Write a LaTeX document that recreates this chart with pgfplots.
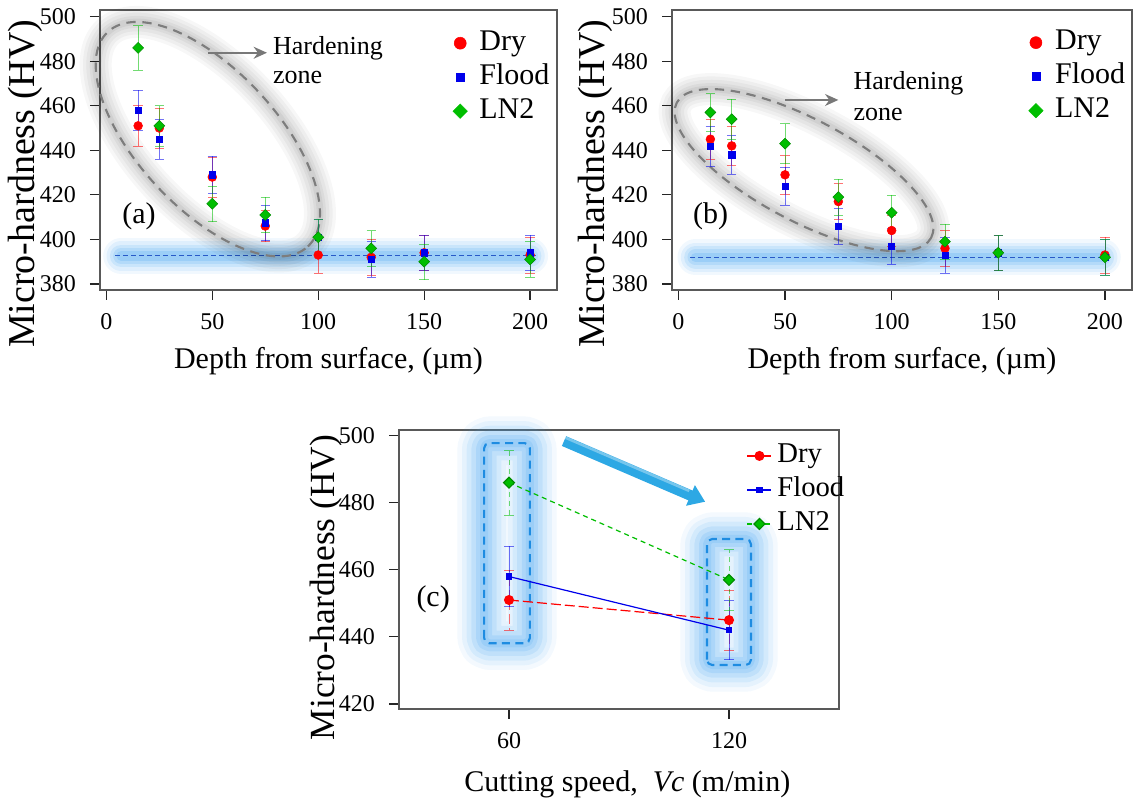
\documentclass[border=0pt]{standalone}
\usepackage{fontspec}
\setmainfont{Liberation Serif}
\usepackage{pgfplots}
\pgfplotsset{compat=1.18}
\usetikzlibrary{arrows.meta}
\definecolor{dryc}{RGB}{255,0,0}
\definecolor{floodc}{RGB}{0,0,235}
\definecolor{lnc}{RGB}{0,190,0}
\definecolor{lnd}{RGB}{0,140,0}
\definecolor{glowc}{RGB}{60,160,240}
\definecolor{boxc}{RGB}{30,140,225}
\definecolor{arrc}{RGB}{45,168,228}
\pgfplotsset{
  panel/.style={
    scale only axis, clip=false,
    axis line style={draw=black!65, line width=0.9pt},
    tick align=outside, major tick length=7.5pt,
    tick style={draw=black!85, line width=0.9pt},
    xtick pos=lower, ytick pos=left,
    /pgf/number format/assume math mode=true,
    tick label style={font=\fontsize{18}{20}\selectfont},
    xticklabel style={yshift=-7pt},
    yticklabel style={xshift=-7pt},
    xlabel style={font=\fontsize{22.5}{25}\selectfont, anchor=base},
    legend style={draw=none, fill=none, inner sep=0pt, legend cell align=left,
      font=\fontsize{22.5}{25}\selectfont, row sep=0pt, column sep=8pt,
      nodes={inner sep=1pt, text height=17pt, text depth=6.5pt}},
  },
  errstyle/.style={error bars/.cd, y dir=both, y explicit,
    error bar style={#1, line width=0.45pt, opacity=0.55},
    error mark options={#1, rotate=90, line width=0.45pt, opacity=0.55, mark size=3.5pt}},
  dotleg/.style={legend image code/.code={\draw[##1] plot coordinates {(0pt,0pt)};}},
}
\newcommand\glowbox[4]{%
  \draw[glowc, opacity=0.06, line width=40pt, rounded corners=4pt, line join=round] (axis cs:#1,#3) rectangle (axis cs:#2,#4);
  \draw[glowc, opacity=0.08, line width=33pt, rounded corners=4pt, line join=round] (axis cs:#1,#3) rectangle (axis cs:#2,#4);
  \draw[glowc, opacity=0.1, line width=26pt, rounded corners=4pt, line join=round] (axis cs:#1,#3) rectangle (axis cs:#2,#4);
  \draw[glowc, opacity=0.13, line width=19pt, rounded corners=4pt, line join=round] (axis cs:#1,#3) rectangle (axis cs:#2,#4);
  \draw[glowc, opacity=0.15, line width=12pt, rounded corners=4pt, line join=round] (axis cs:#1,#3) rectangle (axis cs:#2,#4);
  \draw[glowc, opacity=0.15, line width=6pt, rounded corners=4pt, line join=round] (axis cs:#1,#3) rectangle (axis cs:#2,#4);
  \draw[boxc, line width=1.6pt, dash pattern=on 6pt off 4pt, rounded corners=4pt] (axis cs:#1,#3) rectangle (axis cs:#2,#4);
}
\newcommand\glowell[5]{%
  \draw[black, opacity=0.03, line width=24pt, rotate around={#5:(axis cs:#1,#2)}] (axis cs:#1,#2) ellipse [x radius=#3, y radius=#4];
  \draw[black, opacity=0.035, line width=19pt, rotate around={#5:(axis cs:#1,#2)}] (axis cs:#1,#2) ellipse [x radius=#3, y radius=#4];
  \draw[black, opacity=0.04, line width=14pt, rotate around={#5:(axis cs:#1,#2)}] (axis cs:#1,#2) ellipse [x radius=#3, y radius=#4];
  \draw[black, opacity=0.045, line width=9pt, rotate around={#5:(axis cs:#1,#2)}] (axis cs:#1,#2) ellipse [x radius=#3, y radius=#4];
  \draw[black, opacity=0.05, line width=5pt, rotate around={#5:(axis cs:#1,#2)}] (axis cs:#1,#2) ellipse [x radius=#3, y radius=#4];
  \draw[draw={rgb,255:red,125;green,125;blue,125}, line width=1.6pt, dash pattern=on 7pt off 5pt, rotate around={#5:(axis cs:#1,#2)}] (axis cs:#1,#2) ellipse [x radius=#3, y radius=#4];
}
\newcommand\glowline[3]{%
  \addplot[forget plot, draw=glowc, opacity=0.07, line width=27pt, line cap=round] coordinates {(#1,#3) (#2,#3)};
  \addplot[forget plot, draw=glowc, opacity=0.1, line width=22pt, line cap=round] coordinates {(#1,#3) (#2,#3)};
  \addplot[forget plot, draw=glowc, opacity=0.13, line width=17pt, line cap=round] coordinates {(#1,#3) (#2,#3)};
  \addplot[forget plot, draw=glowc, opacity=0.16, line width=12pt, line cap=round] coordinates {(#1,#3) (#2,#3)};
  \addplot[forget plot, draw=glowc, opacity=0.2, line width=7pt, line cap=round] coordinates {(#1,#3) (#2,#3)};
}
\begin{document}
\begin{tikzpicture}
\useasboundingbox (0,0) rectangle (849.75pt,604.5pt);
% ---------------- (a)
\begin{axis}[panel, at={(75pt,387pt)}, anchor=south west,
  width=342.75pt, height=210pt,
  xmin=-3, xmax=212.7, ymin=377.3, ymax=503,
  xtick={0,50,100,150,200}, ytick={380,400,420,440,460,480,500},
  xlabel={Depth from surface, (µm)},
  xlabel style={at={(axis description cs:0.5,-0.28)}},
  ylabel={Micro-hardness (HV)},
  ylabel style={at={(axis description cs:-0.164,0.379)}, anchor=center, font=\fontsize{28.5}{30}\selectfont},
  legend style={at={(rel axis cs:0.772,0.943)}, anchor=north west},
]
\glowline{7}{200}{392.6}
\addplot[forget plot, draw={rgb,255:red,40;green,90;blue,200}, line width=0.8pt, dash pattern=on 3.5pt off 2.5pt] coordinates {(4.2,392.6) (203,392.6)};
\glowell{47.9}{445}{110pt}{52pt}{-47}
\draw[draw={rgb,255:red,120;green,120;blue,120}, line width=1.2pt, -{Stealth[length=10pt,width=9pt]}] (axis cs:48.1,483.8) -- (axis cs:75.8,483.8);
\node[anchor=base west, inner sep=0pt, font=\fontsize{19.5}{21}\selectfont] at (axis cs:78.6,482.8) {Hardening};
\node[anchor=base west, inner sep=0pt, font=\fontsize{19.5}{21}\selectfont] at (axis cs:78.6,470.1) {zone};
\node[anchor=base west, inner sep=0pt, font=\fontsize{22.5}{25}\selectfont] at (axis cs:7.4,407.3) {(a)};
\addplot[forget plot, only marks, mark=*, mark size=3.3pt, color=dryc, errstyle=dryc] table[x=x,y=y,y error=e] {
x y e
15 451 9
25 450 9
50 428 9
75 406 7
100 393 8
125 392 8
150 394 8
200 393 8
};
\addplot[forget plot, only marks, mark=square*, mark size=2.3pt, color=floodc, errstyle=floodc] table[x=x,y=y,y error=e] {
x y e
15 458 9
25 445 9
50 429 8.5
75 407.5 8
100 401 8
125 391 8
150 394 8
200 394 8
};
\addplot[forget plot, only marks, mark=square*, mark size=2.9pt, mark options={rotate=45, draw=lnd, fill=lnc}, color=lnc, errstyle=lnc] table[x=x,y=y,y error=e] {
x y e
15 486 10
25 451 9
50 416 8
75 411 8
100 401 8
125 396 8
150 390 8
200 391 8
};
\addlegendimage{dotleg, only marks, mark=*, mark size=4.5pt, color=dryc}
\addlegendentry{Dry}
\addlegendimage{dotleg, only marks, mark=square*, mark size=3pt, color=floodc}
\addlegendentry{Flood}
\addlegendimage{dotleg, only marks, mark=square*, mark size=3.8pt, mark options={rotate=45}, draw=lnc, fill=lnc}
\addlegendentry{LN2}
\end{axis}
% ---------------- (b)
\begin{axis}[panel, at={(504pt,387pt)}, anchor=south west,
  width=345pt, height=210pt,
  xmin=-3, xmax=212.7, ymin=377.3, ymax=503,
  xtick={0,50,100,150,200}, ytick={380,400,420,440,460,480,500},
  xlabel={Depth from surface, (µm)},
  xlabel style={at={(axis description cs:0.5,-0.28)}},
  ylabel={Micro-hardness (HV)},
  ylabel style={at={(axis description cs:-0.167,0.379)}, anchor=center, font=\fontsize{28.5}{30}\selectfont},
  legend style={at={(rel axis cs:0.775,0.945)}, anchor=north west},
]
\glowline{8}{199}{392}
\addplot[forget plot, draw={rgb,255:red,40;green,90;blue,200}, line width=0.8pt, dash pattern=on 3.5pt off 2.5pt] coordinates {(5.5,392) (201.5,392)};
\glowell{58.9}{431.1}{108pt}{38pt}{-28}
\draw[draw={rgb,255:red,120;green,120;blue,120}, line width=1.2pt, -{Stealth[length=10pt,width=9pt]}] (axis cs:50,462.6) -- (axis cs:75,462.6);
\node[anchor=base west, inner sep=0pt, font=\fontsize{19.5}{21}\selectfont] at (axis cs:82,467.1) {Hardening};
\node[anchor=base west, inner sep=0pt, font=\fontsize{19.5}{21}\selectfont] at (axis cs:82,453.5) {zone};
\node[anchor=base west, inner sep=0pt, font=\fontsize{22.5}{25}\selectfont] at (axis cs:6.75,407.3) {(b)};
\addplot[forget plot, only marks, mark=*, mark size=3.3pt, color=dryc, errstyle=dryc] table[x=x,y=y,y error=e] {
x y e
15 445 9
25 442 8.8
50 429 8.6
75 417 8
100 404 7
125 396 8
150 394 8
200 393 8
};
\addplot[forget plot, only marks, mark=square*, mark size=2.3pt, color=floodc, errstyle=floodc] table[x=x,y=y,y error=e] {
x y e
15 442 9
25 438 8.6
50 424 8.5
75 406 8
100 397 8
125 393 8
150 394 8
200 392 8
};
\addplot[forget plot, only marks, mark=square*, mark size=2.9pt, mark options={rotate=45, draw=lnd, fill=lnc}, color=lnc, errstyle=lnc] table[x=x,y=y,y error=e] {
x y e
15 457 8.5
25 454 9
50 443 9
75 419 8
100 412 8
125 399 8
150 394 8
200 392 8
};
\addlegendimage{dotleg, only marks, mark=*, mark size=4.5pt, color=dryc}
\addlegendentry{Dry}
\addlegendimage{dotleg, only marks, mark=square*, mark size=3pt, color=floodc}
\addlegendentry{Flood}
\addlegendimage{dotleg, only marks, mark=square*, mark size=3.8pt, mark options={rotate=45}, draw=lnc, fill=lnc}
\addlegendentry{LN2}
\end{axis}
% ---------------- (c)
\begin{axis}[panel, at={(299.25pt,72.75pt)}, anchor=south west,
  width=330pt, height=209.25pt,
  xmin=30, xmax=150, ymin=418.5, ymax=501.7,
  xtick={60,120}, ytick={420,440,460,480,500},
  xlabel={Cutting speed,\ \ \textit{Vc} (m/min)},
  xlabel style={at={(axis description cs:0.519,-0.296)}},
  ylabel={Micro-hardness (HV)},
  ylabel style={at={(axis description cs:-0.166,0.435)}, anchor=center, font=\fontsize{26.5}{28}\selectfont},
  legend style={at={(rel axis cs:0.79,0.969)}, anchor=north west, column sep=3pt, font=\fontsize{21.5}{24}\selectfont},
  legend image code/.code={\draw[mark repeat=2, mark phase=2, #1] plot coordinates {(0pt,0pt) (9pt,0pt) (18pt,0pt)};},
]
\glowbox{53.2}{65.7}{438.1}{497.8}
\glowbox{114}{126}{431.6}{469.2}
\draw[arrc, line width=8pt, -{Triangle[length=12pt,width=16pt]}] (axis cs:75,498.4) -- (axis cs:113.5,480.3);
\draw[white, opacity=0.35, line width=2pt, shorten >=13pt] (axis cs:75,499.6) -- (axis cs:113.5,481.5);
\node[anchor=base west, inner sep=0pt, font=\fontsize{22.5}{25}\selectfont] at (axis cs:34.7,449) {(c)};
\addplot[color=dryc, line width=0.9pt, dash pattern=on 7.5pt off 3pt, mark=*, mark size=3.3pt, mark options={solid}, errstyle=dryc] table[x=x,y=y,y error=e] {
x y e
60 451 9
120 445 9
};
\addlegendentry{Dry}
\addplot[color=floodc, line width=0.9pt, mark=square*, mark size=2pt, mark options={solid}, errstyle=floodc] table[x=x,y=y,y error=e] {
x y e
60 458 9
120 442 8.8
};
\addlegendentry{Flood}
\addplot[color=lnc, line width=0.9pt, dash pattern=on 3.75pt off 3pt, mark=square*, mark size=2.9pt, mark options={solid, rotate=45, draw=lnd, fill=lnc}, errstyle=lnc] table[x=x,y=y,y error=e] {
x y e
60 486 9.7
120 457 9
};
\addlegendentry{LN2}
\end{axis}
\end{tikzpicture}
\end{document}
